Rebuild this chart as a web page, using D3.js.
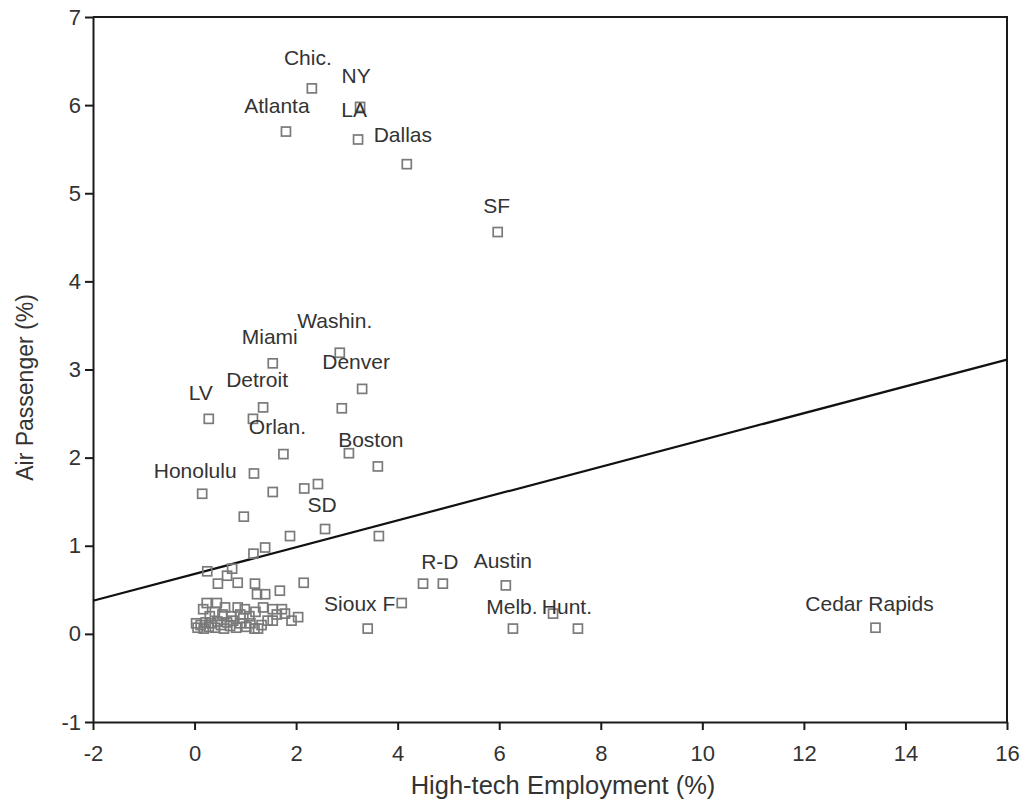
<!DOCTYPE html>
<html>
<head>
<meta charset="utf-8">
<script src="https://cdn.jsdelivr.net/npm/d3@7"></script>
<style>
  html, body { margin: 0; padding: 0; background: #fff; }
  svg { display: block; }
  text { font-family: "Liberation Sans", Arial, sans-serif; }
</style>
</head>
<body>
<svg id="chart" width="1034" height="812"></svg>
<script>
// ---------------- data ----------------
const xTicks = [-2, 0, 2, 4, 6, 8, 10, 12, 14, 16];
const yTicks = [-1, 0, 1, 2, 3, 4, 5, 6, 7];
const xTitle = "High-tech Employment (%)";
const yTitle = "Air Passenger (%)";

// labelled cities: name, high-tech employment (%), air passenger (%)
const cityNames = ["Chic.", "NY", "LA", "Atlanta", "Dallas", "SF", "Washin.", "Miami", "Denver", "Detroit",
  "LV", "Orlan.", "Boston", "Honolulu", "SD", "Sioux F", "R-D", "Austin", "Melb.", "Hunt.", "Cedar Rapids"];
const cityTech = [2.31, 3.26, 3.22, 1.80, 4.18, 5.97, 2.86, 1.54, 3.30, 1.35,
  0.28, 1.75, 3.61, 0.15, 2.57, 3.41, 4.89, 6.13, 6.27, 7.55, 13.41];
const cityAir = [6.19, 5.98, 5.61, 5.70, 5.33, 4.56, 3.19, 3.07, 2.78, 2.57,
  2.44, 2.04, 1.90, 1.59, 1.19, 0.06, 0.57, 0.55, 0.06, 0.06, 0.07];

// unlabelled metro areas
const otherTech = [2.90, 1.15, 3.04, 1.17, 1.54, 2.16, 2.43, 0.97, 1.88, 3.63,
  1.16, 1.39, 4.08, 4.50, 7.06, 0.25, 0.74, 0.64, 0.46, 0.85,
  1.19, 2.15, 1.23, 1.39, 1.68, 0.24, 0.44, 0.17, 0.60, 0.85,
  0.99, 1.35, 1.54, 1.72, 0.03, 0.06, 0.12, 0.18, 0.22, 0.28,
  0.33, 0.40, 0.45, 0.52, 0.58, 0.64, 0.70, 0.76, 0.82, 0.90,
  0.96, 1.02, 1.10, 1.18, 1.25, 1.32, 1.44, 1.54, 1.62, 1.78,
  1.91, 2.04, 0.30, 0.55, 0.72, 0.90, 1.08, 0.40, 1.20];
const otherAir = [2.56, 2.44, 2.05, 1.82, 1.61, 1.65, 1.70, 1.33, 1.11, 1.11,
  0.91, 0.98, 0.35, 0.57, 0.23, 0.71, 0.74, 0.66, 0.57, 0.58,
  0.57, 0.58, 0.45, 0.45, 0.49, 0.35, 0.35, 0.28, 0.30, 0.30,
  0.28, 0.30, 0.28, 0.28, 0.12, 0.07, 0.10, 0.06, 0.13, 0.08,
  0.12, 0.07, 0.14, 0.10, 0.06, 0.13, 0.09, 0.15, 0.07, 0.12,
  0.18, 0.08, 0.12, 0.06, 0.06, 0.10, 0.15, 0.15, 0.22, 0.23,
  0.15, 0.19, 0.20, 0.22, 0.20, 0.22, 0.20, 0.25, 0.25];

// fitted regression line: air = intercept + slope * tech
const fitIntercept = 0.68;
const fitSlope = 0.152;

// ---------------- layout ----------------
const W = 1034, H = 812;
const margin = { top: 17, right: 27, bottom: 90, left: 93 };
const iw = W - margin.left - margin.right;
const ih = H - margin.top - margin.bottom;

// label placement (pixel offsets of text anchor from point)
const labelOffset = {
  "Chic.": [-4, -23], "NY": [-4, -24], "LA": [-4, -22], "Atlanta": [-9, -19], "Dallas": [-4, -22],
  "SF": [-1, -19], "Washin.": [-5, -25], "Miami": [-3, -19], "Denver": [-6, -20], "Detroit": [-6, -20],
  "LV": [-8, -19], "Orlan.": [-6, -20], "Boston": [-7, -19], "Honolulu": [-7, -16], "SD": [-3, -17],
  "Sioux F": [-8, -18], "R-D": [-3, -15], "Austin": [-3, -17], "Melb.": [-1, -15], "Hunt.": [-11, -15],
  "Cedar Rapids": [-6, -17]
};

const svg = d3.select("#chart");
const g = svg.append("g").attr("transform", `translate(${margin.left},${margin.top})`);

const x = d3.scaleLinear().domain([-2, 16]).range([0, iw]);
const y = d3.scaleLinear().domain([-1, 7]).range([ih, 0]);

const axisColor = "#1a1a1a";
const textColor = "#333";

// frame (top and right)
g.append("path")
  .attr("d", `M0,0H${iw}V${ih}`)
  .attr("fill", "none").attr("stroke", axisColor).attr("stroke-width", 2);

// x axis
const xAxis = g.append("g").attr("transform", `translate(0,${ih})`)
  .call(d3.axisBottom(x).tickValues(xTicks).tickSize(8).tickPadding(15).tickSizeOuter(0).tickFormat(d => String(d)));
// y axis
const yAxis = g.append("g")
  .call(d3.axisLeft(y).tickValues(yTicks).tickSize(8).tickPadding(4).tickSizeOuter(0).tickFormat(d => String(d)));

[xAxis, yAxis].forEach(a => {
  a.select(".domain").attr("stroke", axisColor).attr("stroke-width", 2);
  a.selectAll(".tick line").attr("stroke", axisColor).attr("stroke-width", 2);
  a.selectAll(".tick text").attr("fill", textColor)
    .style("font-family", "'Liberation Sans', Arial, sans-serif").style("font-size", "22px");
});

// axis titles
svg.append("text")
  .attr("x", 563).attr("y", 794)
  .attr("text-anchor", "middle")
  .attr("fill", textColor).style("font-size", "25.5px")
  .text(xTitle);
svg.append("text")
  .attr("transform", `translate(33,${margin.top + ih / 2 + 18}) rotate(-90)`)
  .attr("text-anchor", "middle")
  .attr("fill", textColor).style("font-size", "23px")
  .text(yTitle);

// regression line
g.append("line")
  .attr("x1", x(-2)).attr("y1", y(fitIntercept + fitSlope * -2))
  .attr("x2", x(16)).attr("y2", y(fitIntercept + fitSlope * 16))
  .attr("stroke", "#111").attr("stroke-width", 2.2);

// points
const others = otherTech.map((t, i) => ({ t, a: otherAir[i] }));
const cities = cityNames.map((n, i) => ({ name: n, t: cityTech[i], a: cityAir[i] }));
const sq = 9;
const allPts = others.concat(cities);

g.selectAll("rect.pt").data(allPts).join("rect")
  .attr("class", "pt")
  .attr("x", d => x(d.t) - sq / 2)
  .attr("y", d => y(d.a) - sq / 2)
  .attr("width", sq).attr("height", sq)
  .attr("fill", "none").attr("stroke", "#7a7a7a").attr("stroke-width", 1.7);

// city labels
g.selectAll("text.lbl").data(cities).join("text")
  .attr("class", "lbl")
  .attr("x", d => x(d.t) + labelOffset[d.name][0])
  .attr("y", d => y(d.a) + labelOffset[d.name][1])
  .attr("text-anchor", "middle")
  .attr("fill", textColor).style("font-size", "21px")
  .text(d => d.name);
</script>
</body>
</html>
